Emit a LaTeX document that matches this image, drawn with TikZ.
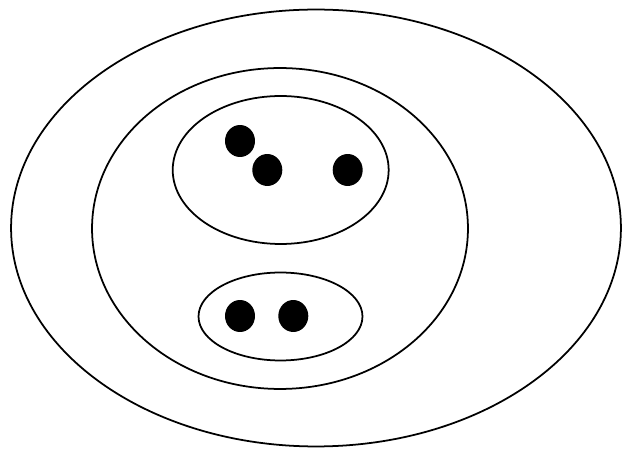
\documentclass[tikz,border=0pt]{standalone}
\usepackage{tikz}
\usetikzlibrary{shapes.geometric}
\tikzset{
  anel/.style={
    draw, ellipse, line width=1pt, inner sep=0pt
  },
  ponto/.style={
    ellipse, fill=black, inner sep=0pt, minimum width=0.6cm, minimum height=0.64cm
  },
}
\begin{document}
\begin{tikzpicture}[x=0.02cm, y=-0.02cm]
\useasboundingbox (0,0) rectangle (623,449);

\node[anel, minimum width=12.2cm, minimum height=8.74cm] (externo) at (316,228) {};
\node[anel, minimum width=7.52cm, minimum height=6.42cm] (meio) at (280,228.5) {};
\node[anel, minimum width=4.32cm, minimum height=2.96cm] (cima) at (280.7,170) {};
\node[anel, minimum width=3.28cm, minimum height=1.76cm] (baixo) at (280.5,316.5) {};

\node[ponto] (p1) at (240,141) {};
\node[ponto] (p2) at (267.3,170) {};
\node[ponto] (p3) at (347.7,170) {};
\node[ponto] (p4) at (240,316) {};
\node[ponto] (p5) at (293.3,316) {};

\end{tikzpicture}
\end{document}
